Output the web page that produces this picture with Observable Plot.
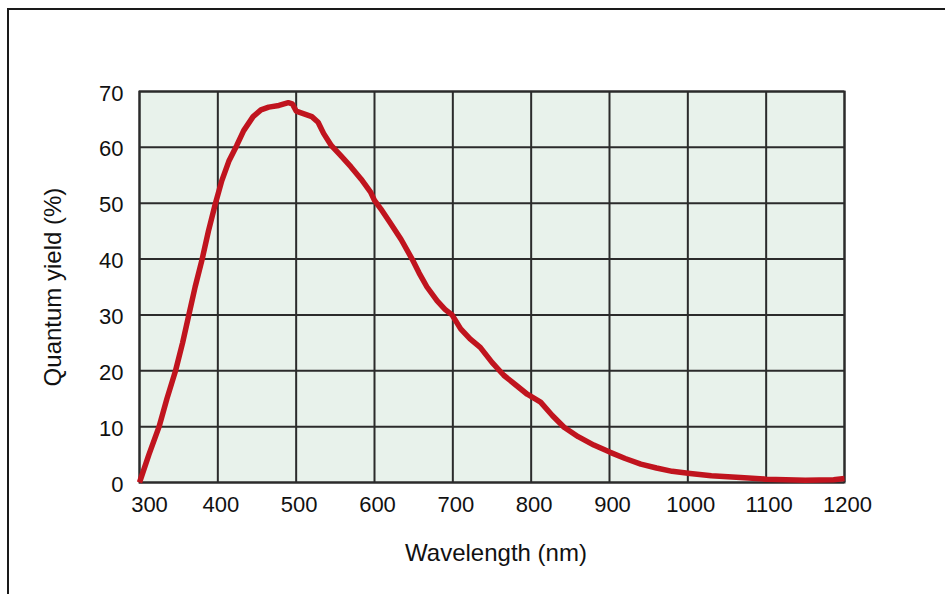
<!DOCTYPE html>
<html>
<head>
<meta charset="utf-8">
<script src="https://cdn.jsdelivr.net/npm/d3@7"></script>
<script src="https://cdn.jsdelivr.net/npm/@observablehq/plot@0.6"></script>
<style>
  html, body { margin: 0; padding: 0; background: #fff; overflow: hidden; width: 945px; height: 594px; }
  #frame { position: absolute; left: 7px; top: 8px; width: 1000px; height: 1000px; border: 2px solid #1a1a1a; }
  #chart { position: absolute; left: 0; top: 0; }
</style>
</head>
<body>
<div id="frame"></div>
<div id="chart"></div>
<script>
const wavelength = [300, 312, 325, 335, 346, 355, 363, 371, 380, 388, 397, 405, 414, 424, 433, 445, 455, 465, 478, 490, 495, 500, 510, 520, 528, 535, 545, 557, 570, 583, 595, 600, 608, 620, 634, 648, 657, 667, 680, 690, 699, 710, 722, 735, 750, 765, 780, 795, 812, 827, 842, 860, 880, 901, 920, 940, 960, 980, 1003, 1030, 1067, 1100, 1125, 1150, 1186, 1200];
const quantumYield = [0, 5, 10, 15, 20, 25, 30, 35, 40, 45, 50, 54, 57.5, 60.3, 63, 65.5, 66.7, 67.2, 67.5, 68, 67.8, 66.5, 66, 65.5, 64.5, 62.5, 60.3, 58.5, 56.5, 54.3, 52, 50.5, 49, 46.5, 43.5, 40, 37.5, 35, 32.5, 31, 30, 27.5, 25.7, 24.2, 21.5, 19.2, 17.5, 15.8, 14.4, 12, 9.9, 8.2, 6.7, 5.4, 4.3, 3.3, 2.6, 2.0, 1.6, 1.2, 0.9, 0.6, 0.5, 0.4, 0.5, 0.7];
const xTicks = [300, 400, 500, 600, 700, 800, 900, 1000, 1100, 1200];
const yTicks = [0, 10, 20, 30, 40, 50, 60, 70];
const xTitle = "Wavelength (nm)";
const yTitle = "Quantum yield (%)";

const data = wavelength.map((w, i) => ({w, v: quantumYield[i]}));
const gridColor = "#2b2b2b";

const chart = Plot.plot({
  width: 945,
  height: 594,
  marginLeft: 139,
  marginRight: 101,
  marginTop: 91,
  marginBottom: 112,
  style: {fontFamily: "'Liberation Sans', Arial, sans-serif", fontSize: "22px", color: "#111", background: "transparent"},
  x: {domain: [300, 1200]},
  y: {domain: [0, 70]},
  marks: [
    Plot.frame({fill: "#e8f2eb", stroke: null}),
    Plot.ruleX(xTicks, {stroke: gridColor, strokeWidth: 2}),
    Plot.ruleY(yTicks, {stroke: gridColor, strokeWidth: 2}),
    Plot.frame({stroke: gridColor, strokeWidth: 2}),
    Plot.axisX({ticks: xTicks.slice(0, 1), tickSize: 0, tickPadding: 14, label: null, fontSize: 22, dx: 10, tickFormat: d => String(d)}),
    Plot.axisX({ticks: xTicks.slice(1), tickSize: 0, tickPadding: 14, label: null, fontSize: 22, dx: 3, tickFormat: d => String(d)}),
    Plot.axisY({ticks: yTicks, tickSize: 0, tickPadding: 16, label: null, fontSize: 22, dy: 2, tickFormat: d => String(d)}),
    Plot.line(data, {x: "w", y: "v", stroke: "#c0141e", strokeWidth: 5.5, strokeLinejoin: "round", strokeLinecap: "butt"}),
    Plot.text([xTitle], {frameAnchor: "bottom", text: d => d, dy: 71, dx: 4, lineAnchor: "middle", textAnchor: "middle", fontSize: 24, fill: "#111"}),
    Plot.text([yTitle], {frameAnchor: "left", text: d => d, dx: -86, rotate: -90, lineAnchor: "middle", textAnchor: "middle", fontSize: 24, fill: "#111"})
  ]
});
document.getElementById("chart").appendChild(chart);
</script>
</body>
</html>
